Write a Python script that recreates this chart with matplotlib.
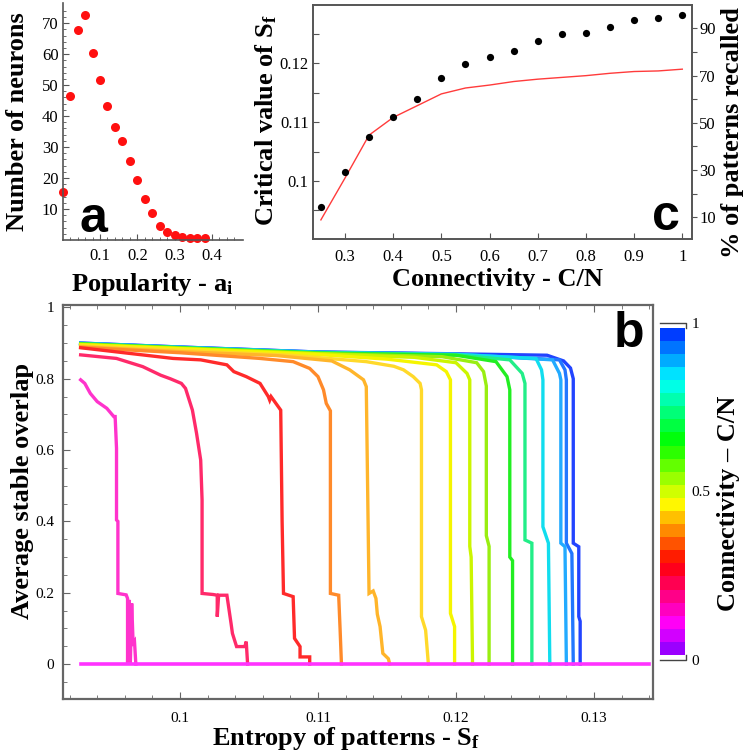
import numpy as np
import matplotlib.pyplot as plt
from matplotlib.colors import hsv_to_rgb

plt.rcParams['font.family'] = 'Liberation Serif'
plt.rcParams['mathtext.fontset'] = 'custom'
plt.rcParams['mathtext.rm'] = 'Liberation Serif:bold'
plt.rcParams['mathtext.it'] = 'Liberation Serif:bold'

# ---- panel a : popularity histogram ----
popularity = [0.0, 0.02, 0.04, 0.06, 0.08, 0.10, 0.12, 0.14, 0.16, 0.18,
              0.20, 0.22, 0.24, 0.26, 0.28, 0.30, 0.32, 0.34, 0.36, 0.38]
n_neurons = [15.6, 46.5, 67.8, 72.6, 60.5, 51.6, 43.2, 36.5, 32.0, 25.4,
             19.5, 13.1, 8.6, 4.5, 2.7, 1.5, 1.0, 0.8, 0.7, 0.7]

# ---- panel c : critical entropy and % recalled vs connectivity ----
connectivity = [0.25, 0.30, 0.35, 0.40, 0.45, 0.50, 0.55, 0.60,
                0.65, 0.70, 0.75, 0.80, 0.85, 0.90, 0.95, 1.00]
critical_sf = [0.0934, 0.1005, 0.1078, 0.1108, 0.1128, 0.1148, 0.1158, 0.1163,
               0.1169, 0.1173, 0.1176, 0.1179, 0.1183, 0.1186, 0.1187, 0.1190]
pct_recalled = [14.5, 29.3, 43.9, 52.6, 59.9, 69.1, 74.8, 77.7,
                80.4, 84.8, 87.5, 87.9, 90.4, 93.5, 94.5, 95.6]

# ---- panel b : average stable overlap vs entropy, one curve per connectivity ----
cn030_x = [0.0928, 0.0931, 0.0935, 0.0940, 0.0947, 0.0952, 0.0953, 0.0954, 0.0954, 0.0955,
           0.0955, 0.0961, 0.0962, 0.0962, 0.0963, 0.0964, 0.0965, 0.0966, 0.0967, 0.0968]
cn030_y = [0.797, 0.787, 0.759, 0.736, 0.717, 0.694, 0.694, 0.605, 0.404, 0.40,
           0.198, 0.194, 0.184, 0.0, 0.18, 0.0, 0.17, 0.06, 0.065, 0.0]
cn035_x = [0.0928, 0.0954, 0.0973, 0.0986, 0.0993, 0.1001, 0.1004, 0.1009, 0.1012, 0.1015,
           0.1016, 0.1016, 0.1024, 0.1027, 0.1027, 0.1028, 0.1034, 0.1037, 0.1038, 0.1041,
           0.1047, 0.1048, 0.1049]
cn035_y = [0.867, 0.857, 0.834, 0.810, 0.800, 0.787, 0.773, 0.712, 0.647, 0.572,
           0.46, 0.198, 0.195, 0.193, 0.133, 0.193, 0.193, 0.114, 0.086, 0.049,
           0.049, 0.063, 0.0]
cn040_x = [0.0928, 0.0995, 0.1015, 0.1034, 0.1039, 0.1048, 0.1058, 0.1064, 0.1065, 0.1066,
           0.1073, 0.1074, 0.1075, 0.1082, 0.1083, 0.1087, 0.1087, 0.1094, 0.1094]
cn040_y = [0.887, 0.857, 0.853, 0.839, 0.820, 0.806, 0.787, 0.750, 0.740, 0.750,
           0.712, 0.40, 0.198, 0.189, 0.072, 0.049, 0.020, 0.020, 0.0]
cn045_x = [0.0928, 0.1000, 0.1058, 0.1082, 0.1094, 0.1100, 0.1104, 0.1106, 0.1109, 0.1109,
           0.1115, 0.1116, 0.1117]
cn045_y = [0.888, 0.873, 0.857, 0.848, 0.829, 0.806, 0.769, 0.731, 0.710, 0.198,
           0.193, 0.10, 0.0]
cn050_x = [0.0928, 0.1000, 0.1070, 0.1110, 0.1123, 0.1133, 0.1135, 0.1137, 0.1140, 0.1142,
           0.1143, 0.1145, 0.1147, 0.1151, 0.1152]
cn050_y = [0.890, 0.876, 0.865, 0.850, 0.825, 0.797, 0.778, 0.198, 0.205, 0.184,
           0.14, 0.105, 0.03, 0.015, 0.0]
cn055_x = [0.0928, 0.1000, 0.1080, 0.1135, 0.1155, 0.1162, 0.1169, 0.1174, 0.1175, 0.1175,
           0.1178, 0.1180]
cn055_y = [0.892, 0.880, 0.866, 0.848, 0.835, 0.825, 0.806, 0.787, 0.769, 0.133,
           0.095, 0.0]
cn060_x = [0.0928, 0.1000, 0.1100, 0.1150, 0.1186, 0.1193, 0.1196, 0.1196, 0.1199, 0.1199]
cn060_y = [0.895, 0.884, 0.868, 0.855, 0.839, 0.820, 0.797, 0.142, 0.105, 0.0]
cn065_x = [0.0928, 0.1000, 0.1100, 0.1170, 0.1200, 0.1208, 0.1210, 0.1210, 0.1211, 0.1212]
cn065_y = [0.896, 0.885, 0.870, 0.860, 0.845, 0.815, 0.797, 0.330, 0.300, 0.0]
cn070_x = [0.0928, 0.1000, 0.1100, 0.1190, 0.1215, 0.1220, 0.1222, 0.1222, 0.1224, 0.1224]
cn070_y = [0.897, 0.886, 0.871, 0.862, 0.845, 0.820, 0.780, 0.360, 0.330, 0.0]
cn075_x = [0.0928, 0.1000, 0.1100, 0.1200, 0.1229, 0.1237, 0.1239, 0.1239, 0.1241, 0.1241]
cn075_y = [0.898, 0.887, 0.872, 0.866, 0.848, 0.806, 0.769, 0.300, 0.290, 0.0]
cn080_x = [0.0928, 0.1000, 0.1100, 0.1200, 0.1239, 0.1248, 0.1250, 0.1250, 0.1255, 0.1255]
cn080_y = [0.898, 0.887, 0.873, 0.867, 0.853, 0.815, 0.787, 0.348, 0.339, 0.0]
cn085_x = [0.0928, 0.1000, 0.1100, 0.1200, 0.1258, 0.1262, 0.1263, 0.1263, 0.1267, 0.1268]
cn085_y = [0.899, 0.888, 0.874, 0.868, 0.857, 0.825, 0.797, 0.385, 0.339, 0.0]
cn090_x = [0.0928, 0.1000, 0.1100, 0.1200, 0.1270, 0.1275, 0.1276, 0.1276, 0.1279, 0.1280]
cn090_y = [0.899, 0.888, 0.874, 0.869, 0.853, 0.815, 0.797, 0.339, 0.329, 0.0]
cn095_x = [0.0928, 0.1000, 0.1100, 0.1200, 0.1275, 0.1279, 0.1280, 0.1280, 0.1284, 0.1285]
cn095_y = [0.900, 0.889, 0.875, 0.869, 0.853, 0.825, 0.797, 0.339, 0.310, 0.0]
cn100_x = [0.0928, 0.1000, 0.1100, 0.1200, 0.1266, 0.1278, 0.1283, 0.1285, 0.1285, 0.1289,
           0.1289, 0.1290, 0.1290]
cn100_y = [0.900, 0.889, 0.875, 0.870, 0.866, 0.850, 0.830, 0.800, 0.339, 0.329,
           0.133, 0.120, 0.0]
baseline_x = [0.0928, 0.1340]
baseline_y = [0.0, 0.0]

curves = [(cn030_x, cn030_y, '#ff33cc'), (cn035_x, cn035_y, '#ff2a6a'),
          (cn040_x, cn040_y, '#ff2a2a'), (cn045_x, cn045_y, '#ff8a2a'),
          (cn050_x, cn050_y, '#ffb52a'), (cn055_x, cn055_y, '#ffd92a'),
          (cn060_x, cn060_y, '#f5f500'), (cn065_x, cn065_y, '#ccf500'),
          (cn070_x, cn070_y, '#99ee11'), (cn075_x, cn075_y, '#22ee22'),
          (cn080_x, cn080_y, '#22ee88'), (cn085_x, cn085_y, '#11ddee'),
          (cn090_x, cn090_y, '#22aaff'), (cn095_x, cn095_y, '#2277ff'),
          (cn100_x, cn100_y, '#2244ff')]

W, H = 746, 755
fig = plt.figure(figsize=(W / 100, H / 100), dpi=100)


def box(l, t, r, b):
    return [l / W, 1 - b / H, (r - l) / W, (b - t) / H]


def fx(px):
    return px / W


def fy(py):
    return 1 - py / H


frame_col = '#555555'
label_kw = dict(fontsize=19, fontweight='bold', family='Liberation Serif')
letter_kw = dict(fontsize=36, fontweight='bold', family='Liberation Sans')

# ===== panel a =====
ax_a = fig.add_axes(box(62.7, 3, 243, 240))
ax_a.plot(popularity, n_neurons, 'o', color='#ff1010', ms=6.5, mec='none', clip_on=False)
ax_a.set_xlim(0, 0.483)
ax_a.set_ylim(0, 76.5)
ax_a.spines['top'].set_visible(False)
ax_a.spines['right'].set_visible(False)
for s in ['left', 'bottom']:
    ax_a.spines[s].set_color(frame_col)
    ax_a.spines[s].set_linewidth(1.2)
ax_a.set_xticks([0.1, 0.2, 0.3, 0.4])
ax_a.set_xticklabels(['0.1', '0.2', '0.3', '0.4'])
ax_a.set_xticks(np.arange(0.02, 0.48, 0.02), minor=True)
ax_a.set_yticks([10, 20, 30, 40, 50, 60, 70])
ax_a.set_yticks(np.arange(2, 76, 2), minor=True)
ax_a.tick_params(which='both', direction='in', color=frame_col, labelsize=12)
ax_a.tick_params(which='major', length=4.5)
ax_a.tick_params(which='minor', length=2.5)
ax_a.tick_params(axis='x', pad=6)
ax_a.tick_params(axis='y', pad=3)
ax_a.text(0.095, 0.035, 'a', transform=ax_a.transAxes, ha='left', va='baseline', **letter_kw)
fig.text(fx(18), fy(122), 'Number of neurons', rotation=90, ha='center', va='center', **label_kw)
fig.text(fx(152), fy(284), r'Popularity - a$_\mathrm{i}$', ha='center', va='center', **label_kw)

# ===== panel c =====
ax_c = fig.add_axes(box(312.7, 5, 691.7, 239.3))
ax_c.plot(connectivity, critical_sf, color='#ff3b3b', lw=1.0)
ax_c.set_xlim(0.233, 1.0195)
ax_c.set_ylim(0.0901, 0.1299)
for s in ax_c.spines.values():
    s.set_color(frame_col)
    s.set_linewidth(1.2)
ax_c.set_xticks([0.3, 0.4, 0.5, 0.6, 0.7, 0.8, 0.9, 1.0])
ax_c.set_xticklabels(['0.3', '0.4', '0.5', '0.6', '0.7', '0.8', '0.9', '1'])
ax_c.set_yticks([0.095, 0.1, 0.105, 0.11, 0.115, 0.12, 0.125])
ax_c.set_yticklabels(['', '0.1', '', '0.11', '', '0.12', ''])
ax_c.tick_params(direction='in', length=4.5, color=frame_col, labelsize=12)
ax_c.tick_params(axis='x', pad=7)
ax_c.tick_params(axis='y', pad=3)
ax_c2 = ax_c.twinx()
ax_c2.plot(connectivity, pct_recalled, 'o', color='black', ms=5.2, mec='none')
ax_c2.set_ylim(0.7, 99.9)
ax_c2.set_yticks([10, 20, 30, 40, 50, 60, 70, 80, 90])
ax_c2.set_yticklabels(['10', '', '30', '', '50', '', '70', '', '90'])
ax_c2.tick_params(direction='out', length=3.5, color=frame_col, labelsize=12, pad=2)
for s in ax_c2.spines.values():
    s.set_color(frame_col)
    s.set_linewidth(1.2)
ax_c.text(0.97, 0.04, 'c', transform=ax_c.transAxes, ha='right', va='baseline', **letter_kw)
fig.text(fx(266), fy(120), r'Critical value of S$_\mathrm{f}$', rotation=90,
         ha='center', va='center', **label_kw)
fig.text(fx(733), fy(133), '% of patterns recalled', rotation=90,
         ha='center', va='center', **label_kw)
fig.text(fx(497), fy(279), 'Connectivity - C/N', ha='center', va='center', **label_kw)

# ===== panel b =====
ax_b = fig.add_axes(box(62.7, 305.3, 653.3, 699))
for xs, ys, col in reversed(curves):
    ax_b.plot(xs, ys, color=col, lw=2.4, solid_joinstyle='miter')
ax_b.plot(baseline_x, baseline_y, color='#ff33ff', lw=2.6)
ax_b.set_xlim(0.0915, 0.1343)
ax_b.set_ylim(-0.098, 1.006)
for s in ax_b.spines.values():
    s.set_color('#666666')
    s.set_linewidth(1.6)
ax_b.set_xticks([0.10, 0.11, 0.12, 0.13])
ax_b.set_xticklabels(['0.1', '0.11', '0.12', '0.13'])
ax_b.set_xticks(np.arange(0.092, 0.1343, 0.002), minor=True)
ax_b.set_yticks([0, 0.2, 0.4, 0.6, 0.8, 1.0])
ax_b.set_yticklabels(['0', '0.2', '0.4', '0.6', '0.8', '1'])
ax_b.set_yticks(np.arange(-0.05, 1.0, 0.05), minor=True)
ax_b.tick_params(which='both', direction='in', color='#666666', labelsize=11,
                 top=True, right=False)
ax_b.tick_params(which='major', length=5)
ax_b.tick_params(which='minor', length=3)
ax_b.tick_params(axis='x', pad=9)
ax_b.tick_params(axis='y', pad=6)
ax_b.text(0.985, 0.985, 'b', transform=ax_b.transAxes, ha='right', va='top', **letter_kw)
fig.text(fx(23), fy(491), 'Average stable overlap', rotation=90, ha='center', va='center', **label_kw)
fig.text(fx(346), fy(738), r'Entropy of patterns - S$_\mathrm{f}$', ha='center', va='center', **label_kw)

# ===== colour legend for panel b =====
cax = fig.add_axes(box(660, 322.7, 686, 660))
edges = np.linspace(0.015, 0.985, 26)
mids = 0.5 * (edges[:-1] + edges[1:])
hues = ((265 + 332 * mids) % 360) / 360.0
band_cols = hsv_to_rgb(np.column_stack([hues, np.ones_like(hues), np.ones_like(hues)]))
for lo, hi, col in zip(edges[:-1], edges[1:], band_cols):
    cax.fill_between([0, 0.97], lo, hi, color=col, lw=0)
cax.plot([0, 1, 1], [1, 1, 0.985], color='#444444', lw=1.0, clip_on=False)
cax.plot([0, 1, 1], [0, 0, 0.015], color='#444444', lw=1.0, clip_on=False)
cax.set_xlim(0, 1)
cax.set_ylim(0, 1)
for s in cax.spines.values():
    s.set_visible(False)
cax.set_xticks([])
cax.yaxis.tick_right()
cax.set_yticks([0, 0.5, 1])
cax.set_yticklabels(['0', '0.5', '1'])
cax.tick_params(axis='y', length=0, pad=4, labelsize=11)
fig.text(fx(728), fy(503), 'Connectivity \u2013 C/N', rotation=90, ha='center', va='center', **label_kw)

fig.savefig('out.png', dpi=100)
